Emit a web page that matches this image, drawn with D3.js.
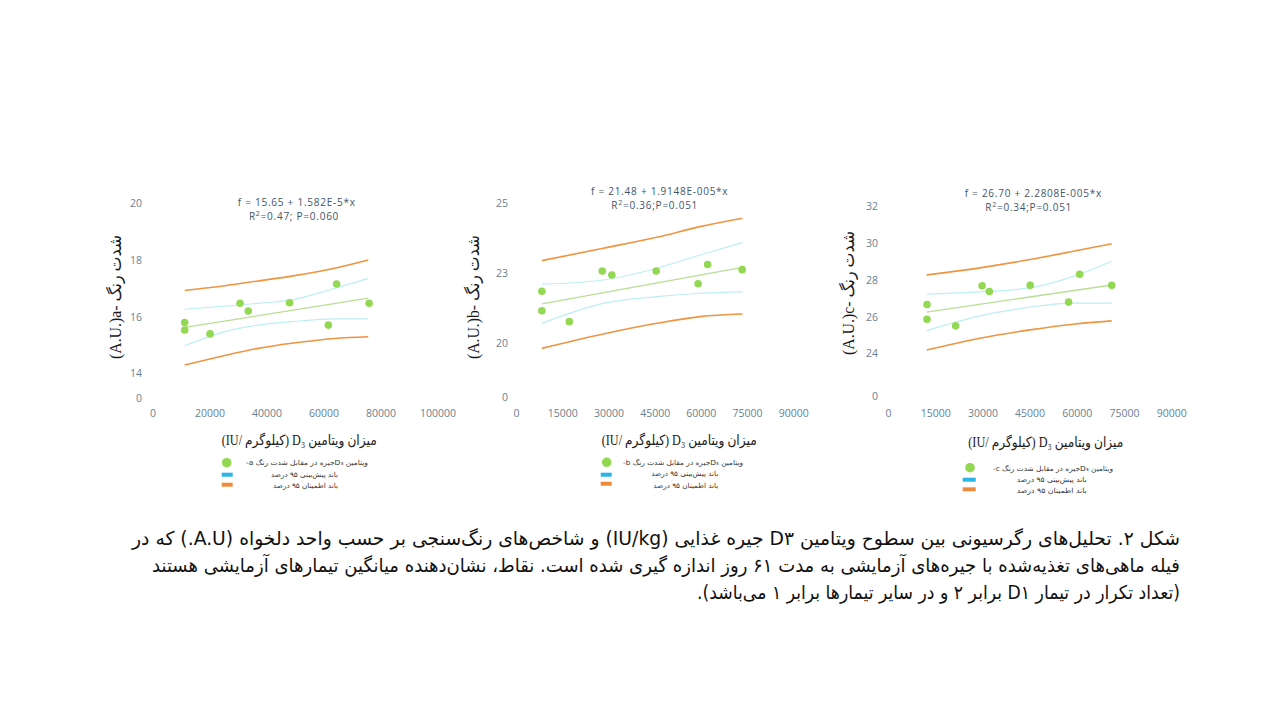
<!DOCTYPE html>
<html><head><meta charset="utf-8">
<script src="https://cdn.jsdelivr.net/npm/d3@7"></script>
<style>body{margin:0;background:#fff}svg{display:block}</style>
</head><body>
<svg id="chart" width="1280" height="720"></svg>
<script>
// ---------- DATA ----------
// Panel a
const vitA = [11300, 11300, 20200, 30700, 33600, 48100, 61700, 64600, 76000];
const colorA = [15.78, 15.52, 15.38, 16.46, 16.19, 16.48, 15.69, 17.14, 16.46];
const bandXA = [11300, 25400, 37100, 48800, 64000, 75700];
const predUpA = [16.91, 17.08, 17.25, 17.42, 17.70, 17.99];
const predLoA = [14.28, 14.62, 14.87, 15.05, 15.22, 15.28];
const confUpA = [16.25, 16.36, 16.46, 16.58, 16.99, 17.34];
const confLoA = [14.96, 15.46, 15.69, 15.81, 15.91, 15.91];
const fitXA = [11300, 75700];
const fitYA = [15.61, 16.64];
const yTicksA = [0, 14, 16, 18, 20];
const yTickLabelsA = ["0", "14", "16", "18", "20"];
const xTicksA = [0, 20000, 40000, 60000, 80000, 100000];
const eqA = ["f = 15.65 + 1.582E-5*x", "=0.47; P=0.060"];

// Panel b
const vitB = [8400, 8400, 17300, 28000, 31100, 45500, 59100, 62200, 73400];
const colorB = [21.85, 21.16, 20.77, 22.57, 22.43, 22.57, 22.12, 22.80, 22.62];
const bandXB = [8400, 28300, 45700, 59700, 73500];
const predUpB = [22.94, 23.38, 23.77, 24.15, 24.45];
const predLoB = [19.82, 20.33, 20.71, 20.95, 21.04];
const confUpB = [22.10, 22.25, 22.67, 23.14, 23.58];
const confLoB = [20.71, 21.42, 21.66, 21.78, 21.83];
const fitXB = [8400, 73500];
const fitYB = [21.40, 22.70];
const yTicksB = [0, 20, 22.5, 25];
const yTickLabelsB = ["0", "20", "23", "25"];
const xTicksB = [0, 15000, 30000, 45000, 60000, 75000, 90000];
const eqB = ["f = 21.48 + 1.9148E-005*x", "=0.36;P=0.051"];

// Panel c
const vitC = [12400, 12400, 21500, 29900, 32200, 45200, 57400, 60900, 71100];
const colorC = [26.65, 25.85, 25.49, 27.67, 27.36, 27.69, 26.78, 28.29, 27.69];
const bandXC = [12300, 29200, 45100, 58900, 71100];
const predUpC = [28.26, 28.64, 29.09, 29.54, 29.95];
const predLoC = [24.18, 24.82, 25.27, 25.58, 25.76];
const confUpC = [27.22, 27.34, 27.55, 28.18, 29.00];
const confLoC = [25.23, 26.03, 26.51, 26.73, 26.73];
const fitXC = [12300, 71100];
const fitYC = [26.24, 27.71];
const yTicksC = [0, 24, 26, 28, 30, 32];
const yTickLabelsC = ["0", "24", "26", "28", "30", "32"];
const xTicksC = [0, 15000, 30000, 45000, 60000, 75000, 90000];
const eqC = ["f = 26.70 + 2.2808E-005*x", "=0.34;P=0.051"];

const panelLetters = ["a", "b", "c"];
const xLabelText = "میزان ویتامین D₃ (کیلوگرم /IU)";
const yLabelText = ["(A.U.)", "- شدت رنگ"];
const legendRow1 = ["ویتامین D₃جیره در مقابل شدت رنگ ", "-"];
const legendRow2 = "باند پیش\u200cبینی ۹۵ درصد";
const legendRow3 = "باند اطمینان ۹۵ درصد";
const captionLines = [
  "شکل ۲. تحلیل\u200cهای رگرسیونی بین سطوح ویتامین D۳ جیره غذایی (IU/kg) و شاخص\u200cهای رنگ\u200cسنجی بر حسب واحد دلخواه (A.U.) که در",
  "فیله ماهی\u200cهای تغذیه\u200cشده با جیره\u200cهای آزمایشی به مدت ۶۱ روز اندازه گیری شده است. نقاط، نشان\u200cدهنده میانگین تیمارهای آزمایشی هستند",
  "(تعداد تکرار در تیمار D۱ برابر ۲ و در سایر تیمارها برابر ۱ می\u200cباشد)."
];

// ---------- LAYOUT ----------
const panels = [
  {x: vitA, y: colorA, bx: bandXA, pu: predUpA, pl: predLoA, cu: confUpA, cl: confLoA, fx: fitXA, fy: fitYA,
   yt: yTicksA, ytl: yTickLabelsA, xt: xTicksA, eq: eqA,
   xDom: [0, 100000], xRange: [152.5, 437.5], yDom: [14, 20], yRange: [373, 203], zeroY: 398, yTickX: 142,
   eqX: [296.7, 294], eqY: [202.5, 216.5], ylab: [115, 297], xlab: [376.7, 440],
   leg: {cx: 226.7, cy: 462.7, bx: 221.7, bw: 11, by1: 472.7, by2: 482.7, r1: 368, r2: 338, w1: 122, w2: 67, w3: 65, ty: [463, 474.5, 486]}},
  {x: vitB, y: colorB, bx: bandXB, pu: predUpB, pl: predLoB, cu: confUpB, cl: confLoB, fx: fitXB, fy: fitYB,
   yt: yTicksB, ytl: yTickLabelsB, xt: xTicksB, eq: eqB,
   xDom: [0, 90000], xRange: [516, 793.3], yDom: [20, 25], yRange: [343.3, 202.7], zeroY: 396.7, yTickX: 508,
   eqX: [659.7, 654.7], eqY: [191.5, 205.5], ylab: [473, 297], xlab: [756.7, 440],
   leg: {cx: 606.7, cy: 462.3, bx: 600.7, bw: 11, by1: 472.7, by2: 481.7, r1: 743, r2: 718.3, w1: 120, w2: 67, w3: 65, ty: [463, 474, 485.5]}},
  {x: vitC, y: colorC, bx: bandXC, pu: predUpC, pl: predLoC, cu: confUpC, cl: confLoC, fx: fitXC, fy: fitYC,
   yt: yTicksC, ytl: yTickLabelsC, xt: xTicksC, eq: eqC,
   xDom: [0, 90000], xRange: [888, 1171.2], yDom: [24, 32], yRange: [353.3, 206], zeroY: 396, yTickX: 878,
   eqX: [1033.3, 1028.7], eqY: [193.3, 207.6], ylab: [848, 293], xlab: [1123.3, 441.7],
   leg: {cx: 970, cy: 467.7, bx: 962.7, bw: 13, by1: 477.7, by2: 487.3, r1: 1113, r2: 1086.7, w1: 120, w2: 70, w3: 70, ty: [468.5, 479.5, 490.5]}}
];

const C = {orange: "#ef9440", cyan: "#bdeef4", fit: "#b9de94", pt: "#93d853", tick: "#6a7f92", eq: "#3e566b", blue: "#2bb5e6", legOrange: "#ee8a3c"};
const tickFont = "'Open Sans', sans-serif";
const serif = "'Liberation Serif', 'DejaVu Sans', serif";

const svg = d3.select("#chart");

panels.forEach((p, i) => {
  const g = svg.append("g");
  const xs = d3.scaleLinear().domain(p.xDom).range(p.xRange);
  const ys = d3.scaleLinear().domain(p.yDom).range(p.yRange);
  // broken y axis scale including the zero label
  const ysAxis = d3.scaleLinear().domain([0, p.yDom[0], p.yDom[1]]).range([p.zeroY, p.yRange[0], p.yRange[1]]);

  const yAxis = d3.axisLeft(ysAxis).tickValues(p.yt).tickFormat((d, k) => p.ytl[k]).tickSize(0).tickPadding(0);
  const ya = g.append("g").attr("transform", `translate(${p.yTickX},0)`).call(yAxis);
  ya.select(".domain").remove();
  ya.selectAll("text").attr("font-family", tickFont).attr("font-size", 10.5).attr("fill", C.tick).attr("dy", "0.35em").attr("x", 0);

  const xAxis = d3.axisBottom(xs).tickValues(p.xt).tickFormat(d3.format("d")).tickSize(0).tickPadding(0);
  const xa = g.append("g").attr("transform", `translate(0,413)`).call(xAxis);
  xa.select(".domain").remove();
  xa.selectAll("text").attr("font-family", tickFont).attr("font-size", 10.5).attr("fill", C.tick).attr("dy", "0.35em").attr("y", 0);

  const curve = d3.line().x(d => xs(d[0])).y(d => ys(d[1])).curve(d3.curveMonotoneX);
  const straight = d3.line().x(d => xs(d[0])).y(d => ys(d[1]));
  const zipB = arr => p.bx.map((x, k) => [x, arr[k]]);

  [p.cu, p.cl].forEach(arr => g.append("path").attr("d", curve(zipB(arr))).attr("fill", "none").attr("stroke", C.cyan).attr("stroke-width", 1.2));
  g.append("path").attr("d", straight(p.fx.map((x, k) => [x, p.fy[k]]))).attr("fill", "none").attr("stroke", C.fit).attr("stroke-width", 1.3);
  [p.pu, p.pl].forEach(arr => g.append("path").attr("d", curve(zipB(arr))).attr("fill", "none").attr("stroke", C.orange).attr("stroke-width", 1.6));

  g.selectAll("circle.pt").data(p.x.map((x, k) => [x, p.y[k]])).join("circle")
    .attr("class", "pt").attr("cx", d => xs(d[0])).attr("cy", d => ys(d[1])).attr("r", 3.8).attr("fill", C.pt);

  // equation
  g.append("text").attr("x", p.eqX[0]).attr("y", p.eqY[0]).attr("text-anchor", "middle").attr("dy", "0.35em")
    .attr("font-family", tickFont).attr("font-size", 10).attr("letter-spacing", 0.75).attr("fill", C.eq).text(p.eq[0]);
  const t2 = g.append("text").attr("x", p.eqX[1]).attr("y", p.eqY[1]).attr("text-anchor", "middle").attr("dy", "0.35em")
    .attr("font-family", tickFont).attr("font-size", 10).attr("letter-spacing", 0.75).attr("fill", C.eq);
  t2.append("tspan").text("R");
  t2.append("tspan").attr("font-size", 7).attr("dy", "-0.55em").text("2");
  t2.append("tspan").attr("dy", "0.385em").text(p.eq[1]);

  // y label (rotated)
  g.append("text").attr("transform", `translate(${p.ylab[0]},${p.ylab[1]}) rotate(-90)`)
    .attr("text-anchor", "middle").attr("dy", "0.35em").attr("font-family", serif).attr("font-size", 17).attr("fill", "#1a1a1a")
    .attr("direction", "ltr").attr("textLength", 124).attr("lengthAdjust", "spacingAndGlyphs")
    .text(yLabelText[0] + panelLetters[i] + yLabelText[1]);

  // x label
  g.append("text").attr("x", p.xlab[0]).attr("y", p.xlab[1]).attr("dy", "0.35em")
    .attr("direction", "rtl").attr("text-anchor", "start")
    .attr("font-family", serif).attr("font-size", 14).attr("fill", "#1a1a1a")
    .attr("textLength", 155).attr("lengthAdjust", "spacingAndGlyphs")
    .text(xLabelText);

  // legend
  const L = p.leg;
  g.append("circle").attr("cx", L.cx).attr("cy", L.cy).attr("r", 4.8).attr("fill", C.pt);
  g.append("rect").attr("x", L.bx).attr("y", L.by1).attr("width", L.bw).attr("height", 4).attr("fill", C.blue);
  g.append("rect").attr("x", L.bx).attr("y", L.by2).attr("width", L.bw).attr("height", 4).attr("fill", C.legOrange);
  const rows = [
    {t: legendRow1[0] + panelLetters[i] + legendRow1[1], x: L.r1, y: L.ty[0], w: L.w1},
    {t: legendRow2, x: L.r2, y: L.ty[1], w: L.w2},
    {t: legendRow3, x: L.r2, y: L.ty[2], w: L.w3}
  ];
  g.selectAll("text.leg").data(rows).join("text").attr("class", "leg")
    .attr("x", d => d.x).attr("y", d => d.y).attr("dy", "0.35em").attr("direction", "rtl").attr("text-anchor", "start")
    .attr("font-family", "'DejaVu Sans', sans-serif").attr("font-size", 7).attr("fill", "#333")
    .attr("textLength", d => d.w).attr("lengthAdjust", "spacingAndGlyphs").text(d => d.t);
});

// caption
const capWidths = [1048, 1028, 483];
const capY = [545, 572, 599];
svg.append("g").selectAll("text").data(captionLines).join("text")
  .attr("x", 1180).attr("y", (d, k) => capY[k])
  .attr("direction", "rtl").attr("text-anchor", "start")
  .attr("font-family", "'DejaVu Sans', sans-serif").attr("font-size", 19).attr("fill", "#111")
  .attr("textLength", (d, k) => capWidths[k]).attr("lengthAdjust", "spacingAndGlyphs")
  .text(d => d);
</script>
</body></html>
